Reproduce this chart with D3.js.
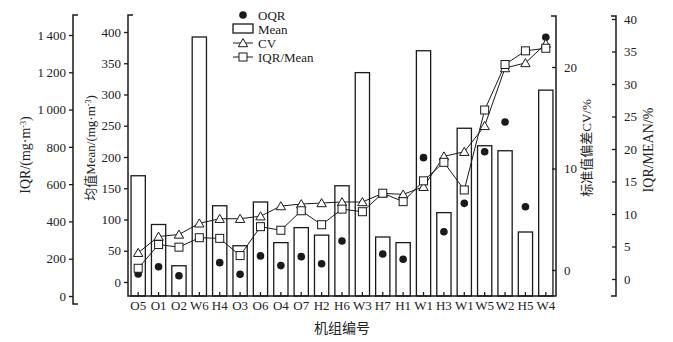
<!DOCTYPE html>
<html>
<head>
<meta charset="utf-8">
<script src="https://cdn.jsdelivr.net/npm/d3@7"></script>
<style>
body { margin: 0; background: #fff; }
svg text { font-family: "Liberation Serif", "Noto Sans CJK SC", serif; fill: #222; }
</style>
</head>
<body>
<svg id="chart"></svg>
<script>
// units along the x axis
const units = ["O5","O1","O2","W6","H4","O3","O6","O4","O7","H2","H6","W3","H7","H1","W1","H3","W1 ","W5","W2","H5","W4"];
const unitLabels = ["O5","O1","O2","W6","H4","O3","O6","O4","O7","H2","H6","W3","H7","H1","W1","H3","W1","W5","W2","H5","W4"];
// mean, mg/m3 (bars)
const meanVals = [170, 92, 26, 392, 122, 58, 128, 63, 87, 75, 154, 335, 72, 63, 370, 111, 246, 218, 210, 80, 307];
// IQR, mg/m3 (dots) - no dot visible for W6 and W3
const iqrVals = [118, 157, 109, null, 179, 116, 215, 163, 211, 173, 295, null, 225, 197, 742, 345, 497, 774, 933, 479, 1388];
// CV, % (triangles)
const cvVals = [1.7, 3.3, 3.5, 4.6, 5.05, 5.05, 5.3, 6.3, 6.5, 6.6, 6.7, 6.7, 7.55, 7.45, 8.2, 11.2, 11.65, 14.2, 19.9, 20.4, 22.3];
// IQR/Mean, % (squares)
const ratioVals = [1.65, 5.3, 4.9, 6.35, 6.25, 3.6, 8.05, 7.5, 10.5, 8.35, 10.75, 10.35, 13.2, 11.9, 15.1, 17.95, 13.7, 26, 33, 35.1, 35.5];

const iqrTicks = [0, 200, 400, 600, 800, 1000, 1200, 1400];
const meanTicks = [0, 50, 100, 150, 200, 250, 300, 350, 400];
const cvTicks = [0, 10, 20];
const ratioTicks = [0, 5, 10, 15, 20, 25, 30, 35, 40];

let svgWidth = 673, svgHeight = 342;
let svg = d3.select("#chart").attr("width", svgWidth).attr("height", svgHeight);

let plotLeft = 128, plotRight = 556, plotBottom = 296, plotTop = 15;

let x = d3.scaleBand().domain(units).range([plotLeft, plotRight]).paddingInner(0.3).paddingOuter(0.15);
let yIqr = d3.scaleLinear().domain([0, 1400]).range([296, 35]);
let yMean = d3.scaleLinear().domain([0, 400]).range([282, 32]);
let yCv = d3.scaleLinear().domain([0, 20]).range([270, 67]);
let yRatio = d3.scaleLinear().domain([0, 40]).range([279, 19]);

const ink = "#1a1a1a";

// bars
svg.append("g").selectAll("rect")
    .data(meanVals)
    .enter().append("rect")
    .attr("x", (d, i) => x(units[i]))
    .attr("width", x.bandwidth())
    .attr("y", d => yMean(d))
    .attr("height", d => plotBottom - yMean(d))
    .attr("fill", "#fff")
    .attr("stroke", ink)
    .attr("stroke-width", 1.3);

let cx = i => x(units[i]) + x.bandwidth() / 2;

// IQR dots
svg.append("g").selectAll("circle")
    .data(iqrVals.map((v, i) => ({ v: v, i: i })).filter(d => d.v != null))
    .enter().append("circle")
    .attr("cx", d => cx(d.i))
    .attr("cy", d => yIqr(d.v))
    .attr("r", 3.8)
    .attr("fill", ink);

// CV line
let cvLine = d3.line().x((d, i) => cx(i)).y(d => yCv(d));
svg.append("path").datum(cvVals)
    .attr("fill", "none").attr("stroke", ink).attr("stroke-width", 1)
    .attr("d", cvLine);

// IQR/Mean line
let ratioLine = d3.line().x((d, i) => cx(i)).y(d => yRatio(d));
svg.append("path").datum(ratioVals)
    .attr("fill", "none").attr("stroke", ink).attr("stroke-width", 1)
    .attr("d", ratioLine);

let tri = d3.symbol().type(d3.symbolTriangle).size(38);
svg.append("g").selectAll("path")
    .data(cvVals)
    .enter().append("path")
    .attr("d", tri)
    .attr("transform", (d, i) => "translate(" + cx(i) + "," + (yCv(d) + 1) + ")")
    .attr("fill", "#fff").attr("stroke", ink).attr("stroke-width", 1);

svg.append("g").selectAll("rect")
    .data(ratioVals)
    .enter().append("rect")
    .attr("x", (d, i) => cx(i) - 4)
    .attr("y", d => yRatio(d) - 4)
    .attr("width", 8).attr("height", 8)
    .attr("fill", "#fff").attr("stroke", ink).attr("stroke-width", 1);

// axes
function styleAxis(g) {
    g.select(".domain").remove();
    g.selectAll("line").attr("stroke", ink).attr("stroke-width", 1.3);
    g.selectAll("text").attr("font-size", 13).style("font-family", "Liberation Serif");
}

let fmtIqr = d => d3.format(",")(d).replace(",", "\u2009");

svg.append("g").attr("transform", "translate(73,0)")
    .call(d3.axisLeft(yIqr).tickValues(iqrTicks).tickFormat(fmtIqr).tickSize(4).tickPadding(3))
    .call(styleAxis);
svg.append("g").attr("transform", "translate(" + plotLeft + ",0)")
    .call(d3.axisLeft(yMean).tickValues(meanTicks).tickSize(4).tickPadding(3))
    .call(styleAxis);
svg.append("g").attr("transform", "translate(" + plotRight + ",0)")
    .call(d3.axisRight(yCv).tickValues(cvTicks).tickSizeInner(-4).tickSizeOuter(0).tickPadding(8))
    .call(styleAxis);
svg.append("g").attr("transform", "translate(616,0)")
    .call(d3.axisRight(yRatio).tickValues(ratioTicks).tickSizeInner(-4).tickSizeOuter(0).tickPadding(8))
    .call(styleAxis);
svg.append("g").attr("transform", "translate(0," + plotBottom + ")")
    .call(d3.axisBottom(x).tickFormat((d, i) => unitLabels[i]).tickSizeInner(-4).tickSizeOuter(0).tickPadding(5))
    .call(styleAxis);

// axis lines with end caps
let axisPath = svg.append("g").attr("fill", "none").attr("stroke", ink).attr("stroke-width", 1.5);
axisPath.append("path").attr("d", "M78,15H73V304H78");
axisPath.append("path").attr("d", "M133,15H128V296H556V16H551");
axisPath.append("path").attr("d", "M611,16H616V296H611");

// axis titles
function sup(t, main, exp) {
    t.append("tspan").text(main);
    t.append("tspan").attr("baseline-shift", "super").attr("font-size", 8).text(exp);
    t.append("tspan").text(")");
}
let t1 = svg.append("text").attr("transform", "translate(30,155) rotate(-90)")
    .attr("text-anchor", "middle").attr("font-size", 14);
sup(t1, "IQR/(mg\u00b7m", "-3");
let t2 = svg.append("text").attr("transform", "translate(95,148) rotate(-90)")
    .attr("text-anchor", "middle").attr("font-size", 13);
sup(t2, "均值Mean/(mg\u00b7m", "-3");
svg.append("text").attr("transform", "translate(591,148) rotate(-90)")
    .attr("text-anchor", "middle").attr("font-size", 13).text("标准值偏差CV/%");
svg.append("text").attr("transform", "translate(653,150) rotate(-90)")
    .attr("text-anchor", "middle").attr("font-size", 14).text("IQR/MEAN/%");
svg.append("text").attr("x", 342).attr("y", 333)
    .attr("text-anchor", "middle").attr("font-size", 14).text("机组编号");

// legend
let lg = svg.append("g");
let lx = 243, tx = 258;
lg.append("circle").attr("cx", lx).attr("cy", 15).attr("r", 3.8).attr("fill", ink);
lg.append("rect").attr("x", 233).attr("y", 24).attr("width", 20).attr("height", 9)
    .attr("fill", "#fff").attr("stroke", ink).attr("stroke-width", 1.3);
lg.append("line").attr("x1", 233).attr("x2", 253).attr("y1", 43).attr("y2", 43).attr("stroke", ink);
lg.append("path").attr("d", tri).attr("transform", "translate(" + lx + ",44)")
    .attr("fill", "#fff").attr("stroke", ink);
lg.append("line").attr("x1", 233).attr("x2", 253).attr("y1", 57).attr("y2", 57).attr("stroke", ink);
lg.append("rect").attr("x", lx - 4).attr("y", 53).attr("width", 8).attr("height", 8)
    .attr("fill", "#fff").attr("stroke", ink);
["OQR", "Mean", "CV", "IQR/Mean"].forEach((s, i) => {
    lg.append("text").attr("x", tx).attr("y", 15 + i * 14).attr("dy", "0.35em")
        .attr("font-size", 13).text(s);
});
</script>
</body>
</html>
